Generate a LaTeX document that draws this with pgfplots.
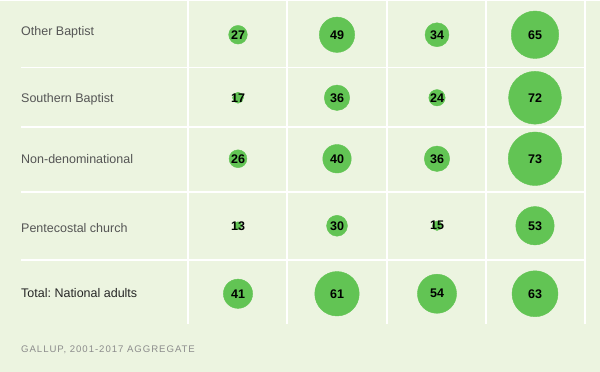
\documentclass[border=0pt]{standalone}
\usepackage{pgfplots}
\pgfplotsset{compat=1.18}
\usepackage{pgfplotstable}
\usepackage{fontspec}
\setmainfont{Liberation Sans}
\newfontfamily\footfont[LetterSpace=10]{Liberation Sans}
\definecolor{bg}{RGB}{236,244,224}
\definecolor{bubble}{RGB}{98,196,84}
\definecolor{labelgray}{RGB}{85,85,85}
\definecolor{footgray}{RGB}{140,140,140}

% x, y = cell centre (px), v = percentage
\pgfplotstableread{
x   y   v
238 34  27
337 34  49
437 34  34
535 34  65
238 97  17
337 97  36
437 97  24
535 97  72
238 158 26
337 158 40
437 158 36
535 158 73
238 225 13
337 225 30
437 225 15
535 225 53
238 293 41
337 293 61
437 293 54
535 293 63
}\bubbles

\begin{document}
\frenchspacing
\begin{tikzpicture}
\begin{axis}[
  width=600pt, height=371pt, scale only axis,
  xmin=0, xmax=600, ymin=0, ymax=371, y dir=reverse,
  ticks=none, axis line style={draw=none},
  axis background/.style={fill=bg},
  clip=false,
]
% grid lines
\draw[white, line width=1.5pt] (axis cs:188,0) -- (axis cs:188,323);
\draw[white, line width=1.5pt] (axis cs:287,0) -- (axis cs:287,323);
\draw[white, line width=1.5pt] (axis cs:387,0) -- (axis cs:387,323);
\draw[white, line width=1.5pt] (axis cs:486,0) -- (axis cs:486,323);
\draw[white, line width=1.5pt] (axis cs:585,0) -- (axis cs:585,323);
\draw[white, line width=1.5pt] (axis cs:21,67) -- (axis cs:585,67);
\draw[white, line width=1.5pt] (axis cs:21,126) -- (axis cs:585,126);
\draw[white, line width=1.5pt] (axis cs:21,191) -- (axis cs:585,191);
\draw[white, line width=1.5pt] (axis cs:21,259) -- (axis cs:585,259);

% bubbles: radius grows linearly with the value
\addplot[
  scatter, only marks, mark=*,
  point meta=explicit,
  scatter/use mapped color={draw=bubble, fill=bubble},
  visualization depends on={0.38*(\thisrow{v}-2.5) \as \perpointmarksize},
  scatter/@pre marker code/.append style={/tikz/mark size=\perpointmarksize},
] table[x=x, y=y, meta=v] {\bubbles};

% value labels
\addplot[
  only marks, mark=none,
  point meta=explicit symbolic,
  nodes near coords,
  nodes near coords align=center,
  every node near coord/.append style={anchor=center, inner sep=0pt,
    font=\fontsize{12.5}{12.5}\selectfont\bfseries, text=black},
] table[x=x, y=y, meta=v] {\bubbles};

% row labels
\node[anchor=base west, inner sep=0pt, text=labelgray, font=\fontsize{12.5}{14}\selectfont] at (axis cs:21,35) {Other Baptist};
\node[anchor=base west, inner sep=0pt, text=labelgray, font=\fontsize{12.5}{14}\selectfont] at (axis cs:21,102) {Southern Baptist};
\node[anchor=base west, inner sep=0pt, text=labelgray, font=\fontsize{12.5}{14}\selectfont] at (axis cs:21,163) {Non-denominational};
\node[anchor=base west, inner sep=0pt, text=labelgray, font=\fontsize{12.5}{14}\selectfont] at (axis cs:21,232) {Pentecostal church};
\node[anchor=base west, inner sep=0pt, text=black!85, font=\fontsize{12.5}{14}\selectfont] at (axis cs:21,297) {Total: National adults};
\node[anchor=base west, inner sep=0pt, text=footgray, font=\footfont\fontsize{9.6}{11}\selectfont] at (axis cs:21,352) {GALLUP, 2001-2017 AGGREGATE};
\end{axis}
\end{tikzpicture}
\end{document}
